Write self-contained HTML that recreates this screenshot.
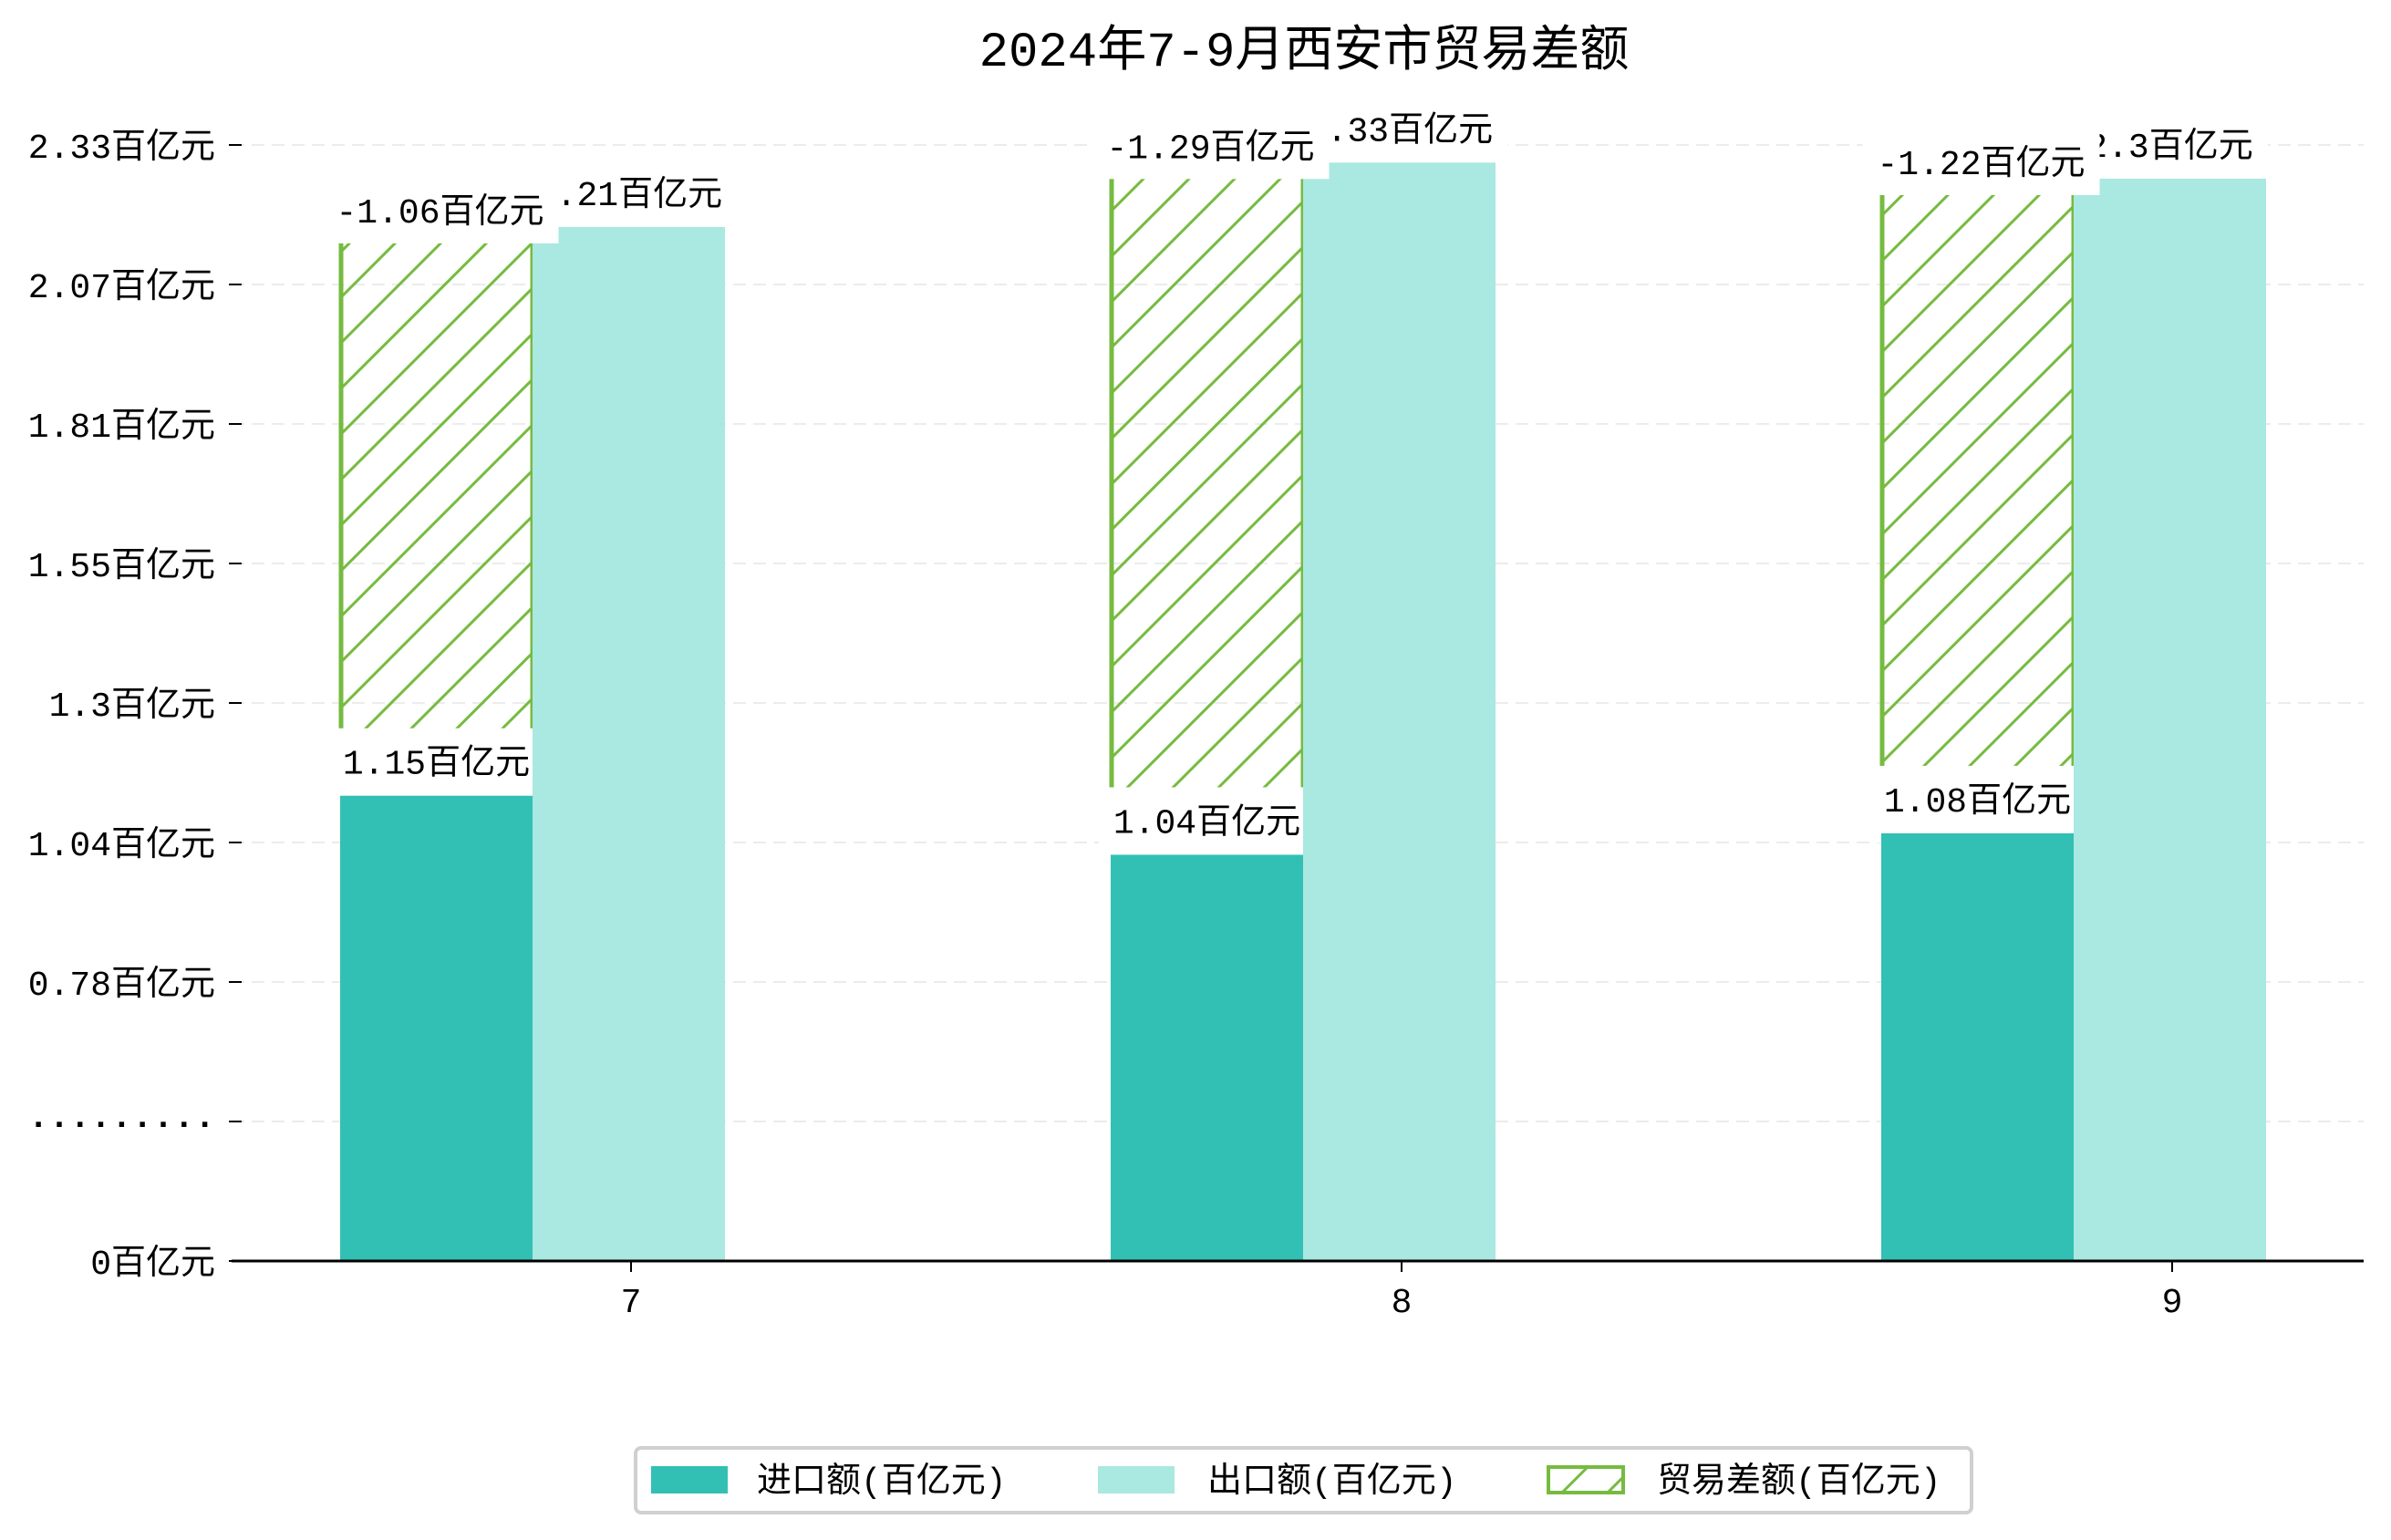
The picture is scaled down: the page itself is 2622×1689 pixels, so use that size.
<!DOCTYPE html>
<html><head><meta charset="utf-8"><style>
html,body{margin:0;padding:0;background:#fff;}
svg{display:block;font-family:"Liberation Mono","Noto Sans CJK SC",monospace;}
</style></head><body>
<svg id="chart" width="2622" height="1689" viewBox="0 0 2622 1689" xmlns="http://www.w3.org/2000/svg">
<defs>
<pattern id="hatch" patternUnits="userSpaceOnUse" width="50" height="50">
<path d="M-5,55 L55,-5 M-30,30 L30,-30 M20,80 L80,20" stroke="#76bb40" stroke-width="3" fill="none"/>
</pattern>
</defs>
<text x="1430" y="72" font-size="54" text-anchor="middle" fill="#000">2024年7-9月西安市贸易差额</text>
<g id="grid"></g><g id="yaxis"></g><g id="bars"></g><g id="xaxis"></g>
<g>
<rect x="697" y="1588" width="1465" height="71" rx="6" fill="#fff" stroke="#d0d0d0" stroke-width="4"/>
<rect x="714" y="1608" width="84" height="30" fill="#32c0b4"/>
<text x="830" y="1636" font-size="38">进口额(百亿元)</text>
<rect x="1204" y="1608" width="84" height="30" fill="#aae8e2"/>
<text x="1324" y="1636" font-size="38">出口额(百亿元)</text>
<rect x="1698" y="1609" width="82" height="28" fill="url(#hatch)" stroke="#76bb40" stroke-width="4"/>
<text x="1817" y="1636" font-size="38">贸易差额(百亿元)</text>
</g>
</svg>
<script>
const categories = ["7", "8", "9"];
const importValues = [1.15, 1.04, 1.08];
const exportValues = [2.21, 2.33, 2.3];
const balanceValues = [-1.06, -1.29, -1.22];
const tickLabels = ["0百亿元", "·········", "0.78百亿元", "1.04百亿元", "1.3百亿元", "1.55百亿元", "1.81百亿元", "2.07百亿元", "2.33百亿元"];

const NS = "http://www.w3.org/2000/svg";
const axisY = 1383, axisLeft = 254, axisRight = 2592;
function yv(v){ return 1549.5 - 588.5 * v; }
function tickY(i){ return axisY - i * 153.0; }
function groupX(i){ return 373 + i * 845; }
const barW = 211;
function mk(tag, attrs, parent){
  const e = document.createElementNS(NS, tag);
  for (const k in attrs) e.setAttribute(k, attrs[k]);
  parent.appendChild(e); return e;
}
const grid = document.getElementById('grid');
const yaxis = document.getElementById('yaxis');
const bars = document.getElementById('bars');
const xaxis = document.getElementById('xaxis');

tickLabels.forEach((lab, i) => {
  const y = tickY(i);
  if (i > 0) {
    const g = mk('line', {x1: axisLeft, x2: axisRight, y1: y, y2: y, stroke: '#ececec', 'stroke-width': 2, 'stroke-dasharray': '14,8'}, grid);
    
    
  }
  const tm = mk('line', {x1: 251, x2: 265, y1: y, y2: y, stroke: '#000', 'stroke-width': 2}, yaxis);
  
  
  const t = mk('text', {x: 236, y: y + 14, 'font-size': 38, 'text-anchor': 'end', 'font-weight': i === 1 ? 'bold' : 'normal'}, yaxis);
  t.textContent = lab;
  
  
});

function label(text, cx, anchor, boxTop, boxBot, textOff, name){
  const g = mk('g', {}, bars);
  
  
  const r = mk('rect', {fill: '#fff'}, g);
  const t = mk('text', {x: cx, y: anchor + textOff + 13, 'font-size': 38, 'text-anchor': 'middle'}, g);
  t.textContent = text;
  const w = t.getComputedTextLength() + 32;
  r.setAttribute('x', cx - w / 2); r.setAttribute('width', w);
  r.setAttribute('y', anchor + boxTop); r.setAttribute('height', boxBot - boxTop);
}

categories.forEach((c, i) => {
  const x0 = groupX(i), x1 = x0 + barW;
  const impTop = yv(importValues[i]);
  const expTop = yv(exportValues[i]);
  const balTop = yv(importValues[i] + Math.abs(balanceValues[i]));
  const hb = mk('rect', {x: x0, y: balTop, width: barW, height: impTop - balTop, fill: 'url(#hatch)'}, bars);
  
  
  const l1 = mk('line', {x1: x0 + 1, x2: x0 + 1, y1: balTop, y2: impTop, stroke: '#76bb40', 'stroke-width': 5}, bars);
  
  
  const l2 = mk('line', {x1: x1, x2: x1, y1: balTop, y2: impTop, stroke: '#76bb40', 'stroke-width': 5}, bars);
  
  
  label(String(exportValues[i]) + '百亿元', x1 + barW / 2, expTop, -74, 10, -37, 'export-value-label');
  label(String(importValues[i]) + '百亿元', x0 + barW / 2, impTop, -74, 10, -37, 'import-value-label');
  const ib = mk('rect', {x: x0, y: impTop, width: barW, height: axisY - impTop, fill: '#32c0b4'}, bars);
  
  
  const eb = mk('rect', {x: x1, y: expTop, width: barW, height: axisY - expTop, fill: '#aae8e2'}, bars);
  
  
});
categories.forEach((c, i) => {
  const x0 = groupX(i);
  const balTop = yv(importValues[i] + Math.abs(balanceValues[i]));
  label(balanceValues[i].toFixed(2) + '百亿元', x0 + barW / 2 + 4, balTop, -54, 18, -18, 'balance-value-label');
  const tx = x0 + 319;
  const tk = mk('line', {x1: tx, x2: tx, y1: axisY, y2: axisY + 12, stroke: '#000', 'stroke-width': 2}, xaxis);
  
  
  const tt = mk('text', {x: tx, y: 1439, 'font-size': 38, 'text-anchor': 'middle'}, xaxis);
  tt.textContent = c;
  
  
});
const ax = mk('line', {x1: axisLeft, x2: axisRight, y1: axisY, y2: axisY, stroke: '#000', 'stroke-width': 3}, xaxis);


</script>
</body></html>
